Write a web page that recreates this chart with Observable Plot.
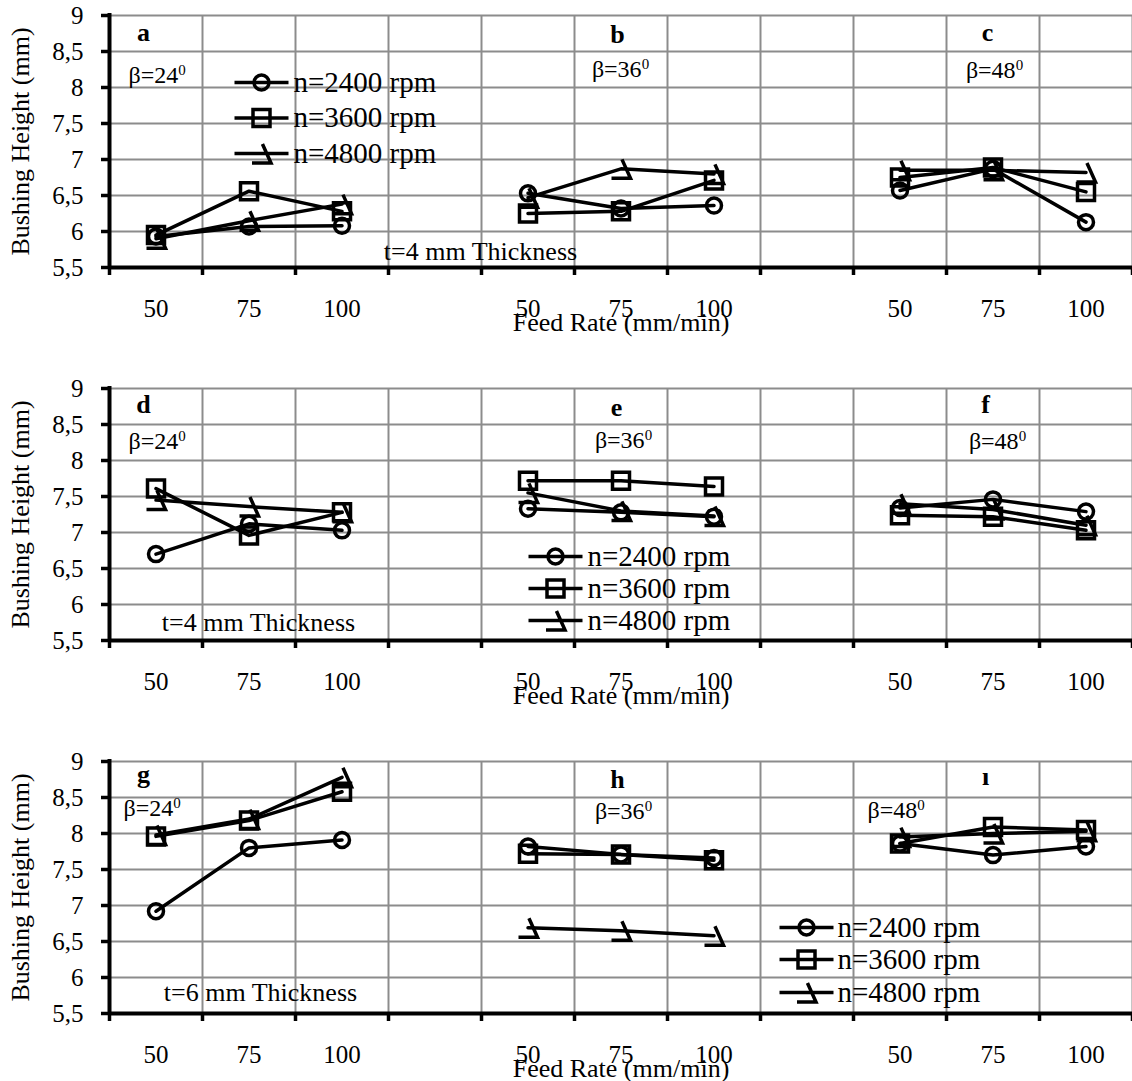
<!DOCTYPE html>
<html><head><meta charset="utf-8">
<script src="https://cdn.jsdelivr.net/npm/d3@7"></script>
<script src="https://cdn.jsdelivr.net/npm/@observablehq/plot@0.6"></script>
<style>
html,body{margin:0;padding:0;background:#fff;}
#chart svg{display:block;}
</style></head><body><div id="chart"></div>
<script>
// ---------- data ----------
const xTickLabels = ["50","75","100","","50","75","100","","50","75","100"];
const feedRates = ["50","75","100"];
const yTicks = [5.5,6,6.5,7,7.5,8,8.5,9];
const yTickLabels = ["5,5","6","6,5","7","7,5","8","8,5","9"];
const speeds = ["n=2400 rpm","n=3600 rpm","n=4800 rpm"];
const panelLetters = ["a","b","c","d","e","f","g","h","ı"];
const angleLabels = ["β=24⁰","β=36⁰","β=48⁰"];
const thicknessLabels = ["t=4 mm Thickness","t=4 mm Thickness","t=6 mm Thickness"];
const yTitle = "Bushing Height (mm)";
const xTitle = "Feed Rate (mm/min)";

// each array: panel 1 (50,75,100), panel 2 (50,75,100), panel 3 (50,75,100)
const row1_n2400 = [5.93,6.07,6.08, 6.53,6.32,6.36, 6.57,6.87,6.13];
const row1_n3600 = [5.95,6.56,6.28, 6.25,6.28,6.71, 6.75,6.89,6.55];
const row1_n4800 = [5.90,6.15,6.38, 6.47,6.87,6.80, 6.85,6.85,6.82];

const row2_n2400 = [6.70,7.12,7.03, 7.33,7.28,7.22, 7.34,7.46,7.29];
const row2_n3600 = [7.61,6.96,7.28, 7.72,7.72,7.64, 7.24,7.22,7.03];
const row2_n4800 = [7.45,7.36,7.28, 7.55,7.30,7.23, 7.40,7.32,7.10];

const row3_n2400 = [6.92,7.80,7.91, 7.82,7.71,7.66, 7.86,7.70,7.82];
const row3_n3600 = [7.96,8.18,8.58, 7.72,7.71,7.63, 7.86,8.09,8.05];
const row3_n4800 = [7.98,8.20,8.78, 6.69,6.65,6.58, 7.95,8.00,8.03];

// ---------- layout / style ----------
const font = "'Liberation Serif','Times New Roman',Times,serif";
const gridColor = "#8c8c8c";

const circleSym = {draw(ctx, size){ const r = Math.sqrt(size/Math.PI); ctx.moveTo(r,0); ctx.arc(0,0,r,0,2*Math.PI); ctx.closePath(); }};
const squareSym = {draw(ctx, size){ const r = Math.sqrt(size/Math.PI); ctx.rect(-r,-r,2*r,2*r); }};
const hookSym   = {draw(ctx, size){ const r = Math.sqrt(size/Math.PI); ctx.moveTo(0.1*r,-r); ctx.lineTo(r,r); ctx.lineTo(-r,r); }};
const markerSyms = [circleSym, squareSym, hookSym];
const markerR = [7.5, 8.5, 9.5];
const swatchSyms = markerSyms.map((sym, i) => ({draw(ctx){ ctx.moveTo(-27,0); ctx.lineTo(27,0); sym.draw(ctx, markerR[i]*markerR[i]*Math.PI); }}));

const rows = [
  {series:[row1_n2400,row1_n3600,row1_n4800], height:373, first:0, thick:0,
   letterPos:[[34,25],[508,27],[878,25]],
   anglePos:[[19,67,"start"],[511,61,"middle"],[885,62,"middle"]],
   thickPos:[371,244], legend:{dx:152, dy:[67,102.5,138], tdx:184}},
  {series:[row2_n2400,row2_n3600,row2_n4800], height:373, first:3, thick:1,
   letterPos:[[34,24],[507,27],[876,24]],
   anglePos:[[19,60,"start"],[514,59,"middle"],[888,60,"middle"]],
   thickPos:[149,242], legend:{dx:446, dy:[168,200,232], tdx:478}},
  {series:[row3_n2400,row3_n3600,row3_n4800], height:335, first:6, thick:2,
   letterPos:[[34,21],[508,26],[876,23]],
   anglePos:[[14,54,"start"],[514,57,"middle"],[758,56,"start"]],
   thickPos:[151,239], legend:{dx:697, dy:[166,198,231], tdx:728}}
];

function buildRow(r){
  const data = [];
  r.series.forEach((vals, s) => vals.forEach((v, k) => {
    const p = Math.floor(k/3), f = k % 3;
    data.push({s, key: s + "-" + p, x: p*4 + f + 0.5, feed: feedRates[f], v});
  }));
  const mt = 15, ph = 252;
  const marks = [
    Plot.ruleX(d3.range(1, xTickLabels.length + 1), {stroke: gridColor, strokeWidth: 2}),
    Plot.ruleY(yTicks.slice(1), {stroke: gridColor, strokeWidth: 2}),
    Plot.axisY({ticks: yTicks, tickSize: 8, tickPadding: 18, tickFormat: v => yTickLabels[yTicks.indexOf(v)], fontSize: 25, strokeWidth: 3.5, label: null}),
    Plot.axisX({ticks: d3.range(0, xTickLabels.length + 1), tickSize: 8, tickFormat: () => "", strokeWidth: 3.5, label: null}),
    Plot.axisX({ticks: d3.range(xTickLabels.length).map(i => i + 0.5), tickSize: 0, tickPadding: 32, tickFormat: v => xTickLabels[Math.floor(v)], fontSize: 25, label: null}),
    Plot.ruleX([0], {stroke: "black", strokeWidth: 4, strokeLinecap: "square"}),
    Plot.ruleY([5.5], {stroke: "black", strokeWidth: 4}),
    Plot.line(data, {x: "x", y: "v", z: "key", stroke: "black", strokeWidth: 3.5, strokeLinejoin: "round"}),
    ...[0,1,2].map(s => Plot.dot(data.filter(d => d.s === s), {x: "x", y: "v", symbol: markerSyms[s], r: markerR[s], stroke: "black", fill: "none", strokeWidth: 3.5})),
    ...[0,1,2].map(j => Plot.text([panelLetters[r.first + j]], {text: d => d, frameAnchor: "top-left", dx: r.letterPos[j][0], dy: r.letterPos[j][1], textAnchor: "middle", lineAnchor: "bottom", fontSize: 26, fontWeight: "bold"})),
    ...[0,1,2].map(j => Plot.text([angleLabels[j]], {text: d => d, frameAnchor: "top-left", dx: r.anglePos[j][0], dy: r.anglePos[j][1], textAnchor: r.anglePos[j][2], lineAnchor: "bottom", fontSize: 24})),
    Plot.text([thicknessLabels[r.thick]], {text: d => d, frameAnchor: "top-left", dx: r.thickPos[0], dy: r.thickPos[1], textAnchor: "middle", lineAnchor: "bottom", fontSize: 26}),
    ...[0,1,2].map(s => Plot.dot([speeds[s]], {frameAnchor: "top-left", dx: r.legend.dx, dy: r.legend.dy[s], symbol: swatchSyms[s], r: markerR[s], stroke: "black", fill: "none", strokeWidth: 3.5})),
    ...[0,1,2].map(s => Plot.text([speeds[s]], {text: d => d, frameAnchor: "top-left", dx: r.legend.tdx, dy: r.legend.dy[s] + 9, textAnchor: "start", lineAnchor: "bottom", fontSize: 29})),
    Plot.text([xTitle], {text: d => d, frameAnchor: "bottom", dy: 63, textAnchor: "middle", lineAnchor: "bottom", fontSize: 26}),
    Plot.text([yTitle], {text: d => d, frameAnchor: "left", dx: -81, rotate: -90, textAnchor: "middle", lineAnchor: "bottom", fontSize: 26})
  ];
  const svg = Plot.plot({
    width: 1132, height: r.height,
    marginLeft: 109, marginRight: 0, marginTop: mt, marginBottom: r.height - mt - ph,
    x: {type: "linear", domain: [0, xTickLabels.length], axis: null},
    y: {type: "linear", domain: [5.5, 9], axis: null},
    style: {fontFamily: font, color: "black", background: "white", overflow: "visible"},
    marks
  });
  // render the degree-like superscript zero as a small raised tspan
  svg.querySelectorAll("text").forEach(t => {
    const s = t.textContent;
    if (s.endsWith("⁰")) {
      t.textContent = s.slice(0, -1);
      const ts = document.createElementNS("http://www.w3.org/2000/svg", "tspan");
      ts.setAttribute("font-size", "15");
      ts.setAttribute("dy", "-8");
      ts.textContent = "0";
      t.appendChild(ts);
    }
  });
  return svg;
}

const container = document.getElementById("chart");
rows.forEach(r => container.appendChild(buildRow(r)));
</script>
</body></html>
